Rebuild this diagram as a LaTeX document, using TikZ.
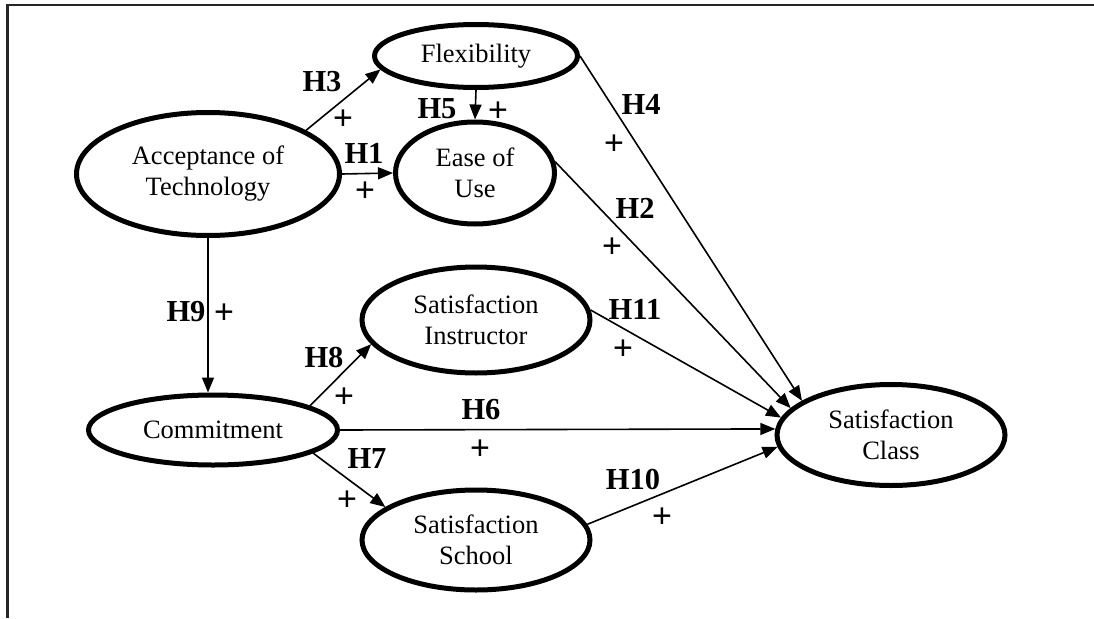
\documentclass[tikz,border=0pt]{standalone}
\usepackage{fontspec}
\setmainfont{Liberation Serif}
\newfontfamily\plusfont{Liberation Sans}
\usetikzlibrary{shapes.geometric,arrows.meta}
\begin{document}
\begin{tikzpicture}[x=1pt,y=-1pt,
  construct/.style={ellipse,draw,line width=5pt,inner sep=0pt,align=center,font=\fontsize{26.5}{31}\selectfont},
  link/.style={line width=1.6pt,-{Triangle[length=15pt,width=12pt]}},
  hyp/.style={font=\fontsize{30.5}{32}\selectfont\bfseries,inner sep=0pt},
  sign/.style={font=\plusfont\fontsize{34}{36}\selectfont,inner sep=0pt}]
\useasboundingbox (0,0) rectangle (1094,618);
\draw[line width=2.4pt,black!85] (7.5,618) -- (7.5,5) -- (1094,5);
% constructs
\node[construct,minimum width=263pt,minimum height=123pt] (acc) at (208,174) {Acceptance of\\Technology};
\node[construct,minimum width=203pt,minimum height=63pt] (flex) at (476,56) {Flexibility};
\node[construct,minimum width=159pt,minimum height=102pt] (ease) at (475,173) {Ease of\\Use};
\node[construct,minimum width=249pt,minimum height=70pt] (com) at (213,430) {Commitment};
\node[construct,minimum width=228pt,minimum height=106pt] (ins) at (476,320) {Satisfaction\\Instructor};
\node[construct,minimum width=228pt,minimum height=100pt] (sch) at (476,540) {Satisfaction\\School};
\node[construct,minimum width=228pt,minimum height=101pt] (cls) at (891,435) {Satisfaction\\Class};
% links
\draw[link] (acc.24) -- (flex.188);
\draw[link] (acc.east) -- (ease.west);
\draw[link] (flex.south) -- (ease.north);
\draw[link] (flex.east) -- (cls.159);
\draw[link] (ease.8) -- (cls.165);
\draw[link] (ins.5) -- (cls.171);
\draw[link] (com.east) -- (cls.177);
\draw[link] (sch.8) -- (cls.186);
\draw[link] (acc.south) -- (acc.south |- com.north);
\draw[link] (com.14) -- (ins.193);
\draw[link] (com.347) -- (sch.160);
% labels
\node[hyp] (lH3) at (322,82) {H3};
\node[sign] (pH3) at (343,120) {+};
\node[hyp] (lH1) at (364,153) {H1};
\node[sign] (pH1) at (365,192) {+};
\node[hyp] (lH5) at (437,109) {H5};
\node[sign] (pH5) at (498,112) {+};
\node[hyp] (lH4) at (641,104) {H4};
\node[sign] (pH4) at (614,145) {+};
\node[hyp] (lH2) at (635,208) {H2};
\node[sign] (pH2) at (612,248) {+};
\node[hyp] (lH9) at (186,312) {H9};
\node[sign] (pH9) at (224,314) {+};
\node[hyp] (lH8) at (324,358) {H8};
\node[sign] (pH8) at (344,398) {+};
\node[hyp] (lH7) at (367,459) {H7};
\node[sign] (pH7) at (347,501) {+};
\node[hyp] (lH11) at (635,309) {H11};
\node[sign] (pH11) at (623,350) {+};
\node[hyp] (lH6) at (481,410) {H6};
\node[sign] (pH6) at (480,450) {+};
\node[hyp] (lH10) at (633,480) {H10};
\node[sign] (pH10) at (662,518) {+};
\end{tikzpicture}
\end{document}
